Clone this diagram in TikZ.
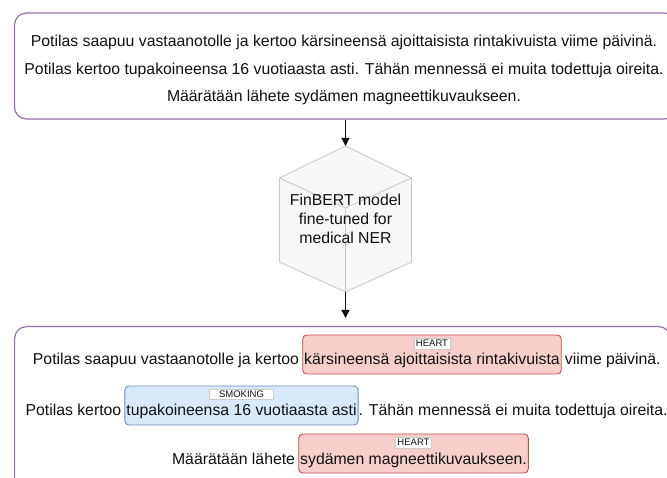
\documentclass[tikz,border=0pt]{standalone}
\usepackage{fontspec}
\setmainfont{Liberation Sans}
\usetikzlibrary{arrows.meta,positioning}

\definecolor{frame}{HTML}{9673A6}
\definecolor{heartfill}{HTML}{F8CECC}
\definecolor{heartline}{HTML}{B85450}
\definecolor{smokefill}{HTML}{DAE8FC}
\definecolor{smokeline}{HTML}{6C8EBF}
\definecolor{cubeline}{HTML}{C8C8C8}
\definecolor{cubefill}{HTML}{F8F8F8}
\definecolor{tagline}{HTML}{CCCCCC}
\definecolor{ink}{HTML}{111111}

\tikzset{
  doc/.style={draw=frame, line width=1.2pt, fill=white, rounded corners=12pt, inner sep=0pt},
  body/.style={font=\fontsize{15.8}{27.5}\selectfont, inner sep=0pt, text=ink},
  span/.style={body, text height=30pt, text depth=9pt, inner xsep=1.5pt, inner ysep=0pt,
               rounded corners=4pt, line width=0.9pt},
  heart/.style={span, fill=heartfill, draw=heartline},
  smoke/.style={span, fill=smokefill, draw=smokeline},
  tag/.style={font=\fontsize{9.5}{10}\selectfont, fill=white, draw=tagline, line width=0.6pt,
              inner xsep=2pt, inner ysep=1.5pt, text height=7pt, text depth=0.5pt, text=ink},
  arr/.style={line width=1.3pt, draw=ink, -{Triangle[length=8pt,width=8pt]}},
  cubeedge/.style={draw=cubeline, line width=0.8pt},
  modeltext/.style={font=\fontsize{15.8}{19}\selectfont, align=center, inner sep=0pt, text=ink}
}

\begin{document}
\begin{tikzpicture}[x=1pt,y=-1pt]
\useasboundingbox (0,0) rectangle (667,478);
\clip (0,0) rectangle (667,478);

% input note
\node[doc, minimum width=662pt, minimum height=106pt] (inbox) at (345.5,66) {};
\node[body, align=center] (intext) at (344,70)
  {Potilas saapuu vastaanotolle ja kertoo kärsineensä ajoittaisista rintakivuista viime päivinä.\\
   Potilas kertoo tupakoineensa 16 vuotiaasta asti. Tähän mennessä ei muita todettuja oireita.\\
   Määrätään lähete sydämen magneettikuvaukseen.};

% NER model drawn as a cube
\coordinate (ctop) at (345.5,146);
\coordinate (cul)  at (279.5,178);
\coordinate (cur)  at (411.5,178);
\coordinate (cll)  at (279.5,262);
\coordinate (clr)  at (411.5,262);
\coordinate (cbot) at (345.5,292);
\coordinate (cmid) at (345.5,208);
\path[cubeedge, fill=cubefill] (ctop) -- (cur) -- (clr) -- (cbot) -- (cll) -- (cul) -- cycle;
\draw[cubeedge] (cul) -- (cmid) -- (cur) (cmid) -- (cbot);
\node[modeltext] (model) at (345.5,219) {FinBERT model\\fine-tuned for\\medical NER};

% annotated output
\node[doc, minimum width=656pt, minimum height=190pt, anchor=north west] (outbox) at (14,326) {};

\draw[arr] (inbox.south) -- (ctop);
\draw[arr, shorten >=8pt] (cbot) -- (cbot |- outbox.north);

% line 1
\node[heart, anchor=base] (s1) at (432,365) {kärsineensä ajoittaisista rintakivuista};
\node[body, anchor=base east] (l1a) at ([xshift=-3pt]s1.base west) {Potilas saapuu vastaanotolle ja kertoo};
\node[body, anchor=base west] (l1b) at ([xshift=3pt]s1.base east) {viime päivinä.};
\node[tag, below=3.5pt of s1.north] (t1) {HEART};

% line 2
\node[smoke, anchor=base] (s2) at (241.5,416) {tupakoineensa 16 vuotiaasta asti};
\node[body, anchor=base east] (l2a) at ([xshift=-3pt]s2.base west) {Potilas kertoo};
\node[body, anchor=base west] (l2b) at (s2.base east) {. Tähän mennessä ei muita todettuja oireita.};
\node[tag, minimum width=64pt, below=3pt of s2.north] (t2) {SMOKING};

% line 3
\node[heart, anchor=base] (s3) at (413.5,464) {sydämen magneettikuvaukseen.};
\node[body, anchor=base east] (l3a) at ([xshift=-3pt]s3.base west) {Määrätään lähete};
\node[tag, below=3.5pt of s3.north] (t3) {HEART};
\end{tikzpicture}
\end{document}
